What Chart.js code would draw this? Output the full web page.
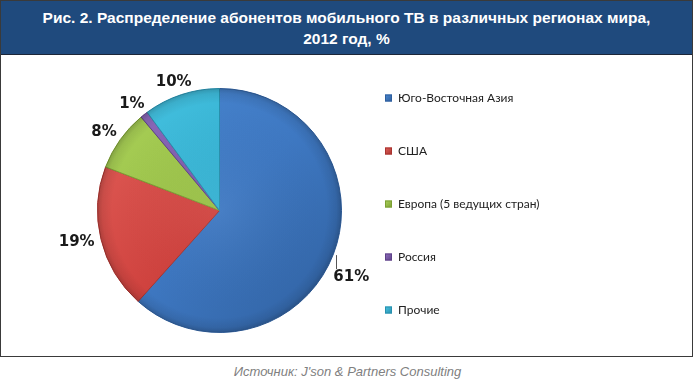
<!DOCTYPE html>
<html>
<head>
<meta charset="utf-8">
<script src="https://cdn.jsdelivr.net/npm/chart.js@4.4.0/dist/chart.umd.min.js"></script>
<style>
html, body { margin: 0; padding: 0; background: #fff; }
#frame {
    position: absolute; left: 0; top: 0;
    width: 691px; height: 355px;
    border: 1px solid #3a3a3a;
}
#title {
    height: 54px;
    background: #1f4a7d;
    border-bottom: 1px solid #1c2638;
    color: #fff;
    font: bold 15.5px "Liberation Sans", sans-serif;
    text-align: center;
    line-height: 21px;
    padding-top: 6px;
    box-sizing: border-box;
    white-space: nowrap;
}
#chartBox { position: absolute; left: 0; top: 55px; width: 690px; height: 299px; }
#source {
    position: absolute; left: 0; top: 364px; width: 695px;
    text-align: center; color: #808080;
    font: italic 13px "Liberation Sans", sans-serif;
}
</style>
</head>
<body>
<div id="frame">
    <div id="title">Рис. 2. Распределение абонентов мобильного ТВ в различных регионах мира,<br>2012 год, %</div>
    <div id="chartBox"><canvas id="pieChart" width="690" height="299"></canvas></div>
</div>
<div id="source">Источник: J'son &amp; Partners Consulting</div>

<script>
// data
const regions = ['Юго-Восточная Азия', 'США', 'Европа (5 ведущих стран)', 'Россия', 'Прочие'];
const shares = [61, 19, 8, 1, 10];

// Office style palette: light / base / dark
const baseColors = ['#3e78c2', '#d0433f', '#98bf45', '#7a56a8', '#33b0d1'];
const lightColors = ['#4a88d2', '#e2605a', '#abd25a', '#9070bf', '#48c4e2'];
const darkColors = ['#2f5f9e', '#a83430', '#7c9f34', '#5e4188', '#2890ae'];

function sliceFill(ctx) {
    const chart = ctx.chart;
    const area = chart.chartArea;
    const i = ctx.dataIndex;
    if (!area) return baseColors[i];
    const g = chart.ctx.createLinearGradient(area.left, area.top, area.right, area.bottom);
    g.addColorStop(0, lightColors[i]);
    g.addColorStop(0.5, baseColors[i]);
    g.addColorStop(1, darkColors[i]);
    return g;
}

// soft bevel on top of the slices
const bevel = {
    id: 'bevel',
    afterDatasetsDraw(chart) {
        const arc = chart.getDatasetMeta(0).data[0];
        if (!arc) return;
        const {x, y, outerRadius} = arc.getProps(['x', 'y', 'outerRadius'], true);
        const c = chart.ctx;
        c.save();
        const g = c.createRadialGradient(x, y, 0, x, y, outerRadius);
        g.addColorStop(0, 'rgba(255,255,255,0.05)');
        g.addColorStop(0.88, 'rgba(0,0,0,0)');
        g.addColorStop(0.96, 'rgba(0,0,0,0.08)');
        g.addColorStop(1, 'rgba(0,0,0,0.2)');
        c.fillStyle = g;
        c.beginPath();
        c.arc(x, y, outerRadius, 0, Math.PI * 2);
        c.fill();
        c.restore();
    }
};

// percentage labels outside the pie
const outsideLabels = {
    id: 'outsideLabels',
    afterDraw(chart, args, opts) {
        const c = chart.ctx;
        const meta = chart.getDatasetMeta(0);
        const values = chart.data.datasets[0].data;
        c.save();
        c.font = opts.font;
        c.fillStyle = opts.color;
        c.textBaseline = 'middle';
        meta.data.forEach((arc, i) => {
            const p = arc.getProps(['x', 'y', 'startAngle', 'endAngle', 'outerRadius'], true);
            const mid = (p.startAngle + p.endAngle) / 2;
            const cos = Math.cos(mid), sin = Math.sin(mid);
            const text = values[i] + '%';
            const w = c.measureText(text).width;
            if (opts.leader && opts.leader.index === i) {
                const ex = p.x + (p.outerRadius + 3) * cos;
                const ey = p.y + (p.outerRadius + 3) * sin;
                c.strokeStyle = '#555';
                c.lineWidth = 1;
                c.beginPath();
                c.moveTo(Math.round(ex) + 0.5, ey);
                c.lineTo(Math.round(ex) + 0.5, ey + opts.leader.length);
                c.stroke();
                c.textAlign = 'left';
                c.fillText(text, ex - 3, ey + opts.leader.length + 8);
                return;
            }
            const r = p.outerRadius + opts.offset;
            const lx = p.x + r * cos + (w / 2) * cos;
            const ly = p.y + r * sin + 6 * sin;
            c.textAlign = 'center';
            c.fillText(text, lx, ly);
        });
        c.restore();
    }
};

// legend drawn at the right
const sideLegend = {
    id: 'sideLegend',
    afterDraw(chart, args, opts) {
        const c = chart.ctx;
        c.save();
        c.font = opts.font;
        c.textBaseline = 'middle';
        c.textAlign = 'left';
        chart.data.labels.forEach((label, i) => {
            const y = opts.top + i * opts.step;
            const s = opts.box;
            const g = c.createLinearGradient(opts.left, y - s / 2, opts.left + s, y + s / 2);
            g.addColorStop(0, lightColors[i]);
            g.addColorStop(1, darkColors[i]);
            c.fillStyle = g;
            c.fillRect(opts.left, y - s / 2, s, s);
            c.strokeStyle = darkColors[i];
            c.lineWidth = 1;
            c.strokeRect(opts.left + 0.5, y - s / 2 + 0.5, s - 1, s - 1);
            c.fillStyle = opts.color;
            c.fillText(label, opts.left + s + opts.gap, y);
        });
        c.restore();
    }
};

new Chart(document.getElementById('pieChart'), {
    type: 'pie',
    data: {
        labels: regions,
        datasets: [{
            data: shares,
            backgroundColor: sliceFill,
            borderColor: darkColors,
            borderWidth: 1
        }]
    },
    options: {
        responsive: false,
        animation: false,
        layout: { padding: { left: 96, right: 349, top: 32, bottom: 22 } },
        plugins: {
            legend: { display: false },
            tooltip: { enabled: false },
            outsideLabels: {
                font: 'bold 15px "DejaVu Sans"',
                color: '#1a1a1a',
                offset: 7,
                leader: { index: 0, length: 14 }
            },
            sideLegend: {
                left: 384, top: 42, step: 53, box: 7, gap: 6,
                font: '12px Lato', color: '#222'
            }
        }
    },
    plugins: [bevel, outsideLabels, sideLegend]
});
</script>
</body>
</html>
